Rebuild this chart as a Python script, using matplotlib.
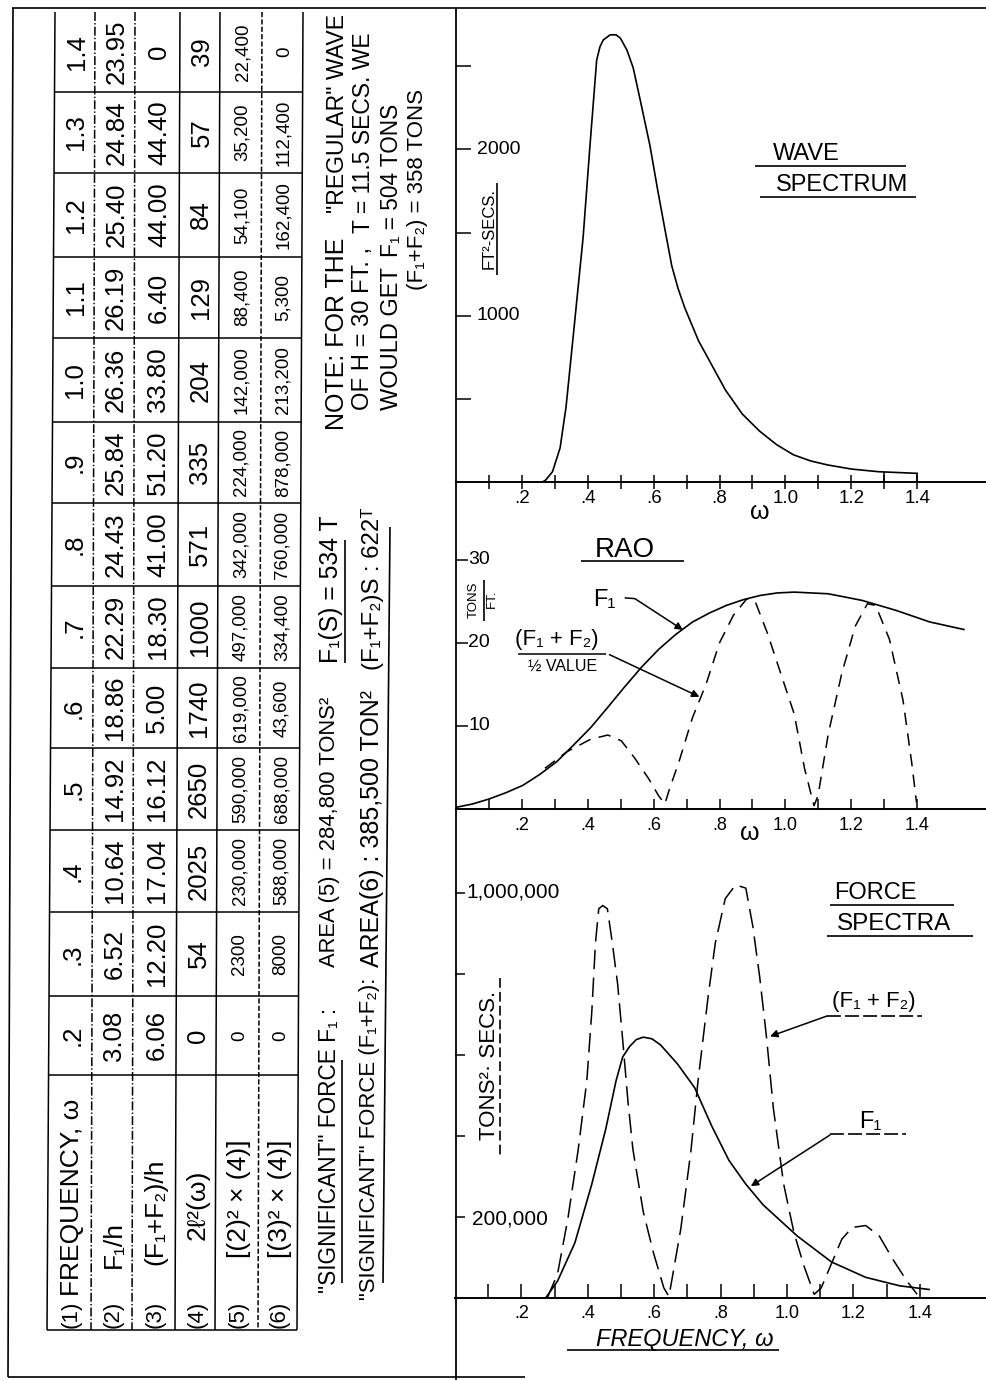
import matplotlib
matplotlib.use('Agg')
import matplotlib.pyplot as plt

plt.rcParams['font.family'] = ['Liberation Sans', 'DejaVu Sans']
plt.rcParams['lines.scale_dashes'] = False
plt.rcParams['axes.unicode_minus'] = False

# ---------------- table data (columns top -> bottom in the picture) ----------------
freq_labels = ['1.4', '1.3', '1.2', '1.1', '1.0', '.9', '.8', '.7', '.6', '.5', '.4', '.3', '.2']
f1_per_h = ['23.95', '24.84', '25.40', '26.19', '26.36', '25.84', '24.43', '22.29', '18.86', '14.92', '10.64', '6.52', '3.08']
f12_per_h = ['0', '44.40', '44.00', '6.40', '33.80', '51.20', '41.00', '18.30', '5.00', '16.12', '17.04', '12.20', '6.06']
wave_ord = ['39', '57', '84', '129', '204', '335', '571', '1000', '1740', '2650', '2025', '54', '0']
f1_spec = ['22,400', '35,200', '54,100', '88,400', '142,000', '224,000', '342,000', '497,000', '619,000',
           '590,000', '230,000', '2300', '0']
f12_spec = ['0', '112,400', '162,400', '5,300', '213,200', '878,000', '760,000', '334,400', '43,600',
            '688,000', '588,000', '8000', '0']
row_ids = ['(1)', '(2)', '(3)', '(4)', '(5)', '(6)']
row_names = ['FREQUENCY, ω', 'F₁/h', '(F₁+F₂)/h', '2ℓ²(ω)', '[(2)² × (4)]', '[(3)² × (4)]']

# ---------------- wave spectrum ----------------
wave_w = [0.262, 0.272, 0.293, 0.316, 0.334, 0.355, 0.386, 0.406, 0.427, 0.437, 0.447, 0.468, 0.486,
          0.499, 0.519, 0.538, 0.56, 0.589, 0.612, 0.635, 0.655, 0.674, 0.694, 0.736, 0.818, 0.869,
          0.921, 0.973, 1.024, 1.076, 1.127, 1.20, 1.282, 1.40]
wave_s = [0, 11, 62, 205, 450, 860, 1473, 2004, 2536, 2617, 2658, 2689, 2689, 2669, 2597, 2490, 2290,
          2021, 1759, 1511, 1300, 1165, 1050, 850, 553, 409, 307, 225, 164, 127, 103, 78, 62, 52]
wave_vl_w = [1.3, 1.4]
wave_vl_s = [60, 52]
wave_yticks = [500, 1000, 1500, 2000, 2500]

# ---------------- RAO ----------------
rao_w = [0, 0.05, 0.1, 0.151, 0.203, 0.254, 0.306, 0.357, 0.409, 0.46, 0.512, 0.564, 0.615, 0.667,
         0.718, 0.77, 0.821, 0.873, 0.924, 0.975, 1.027, 1.13, 1.233, 1.336, 1.439, 1.542]
rao_f1 = [0.2, 0.6, 1.2, 1.95, 2.85, 4.15, 5.7, 7.7, 9.8, 12.2, 14.7, 17.1, 19.2, 21.0, 22.5, 23.6,
          24.5, 25.2, 25.7, 26.0, 26.1, 25.9, 25.1, 23.9, 22.5, 21.6]
rao_half_w = [0.27, 0.337, 0.409, 0.461, 0.502, 0.543, 0.584, 0.615, 0.634, 0.648, 0.677, 0.718, 0.759,
              0.80, 0.842, 0.883, 0.909, 0.945, 0.986, 1.027, 1.058, 1.079, 1.087, 1.099, 1.13, 1.171,
              1.212, 1.249, 1.274, 1.316, 1.357, 1.383, 1.398]
rao_half = [4.9, 6.9, 8.4, 8.9, 8.2, 6.1, 3.7, 1.6, 0.6, 2.4, 5.7, 11.0, 15.0, 20.0, 23.3, 25.3, 24.9,
            21.2, 16.3, 11.4, 4.9, 1.6, 0.4, 1.6, 9.0, 16.3, 22.0, 24.7, 24.5, 20.4, 13.1, 5.7, 0.8]
rao_yticks = [10, 20, 30]

# ---------------- force spectra ----------------
fs1_w = [0.273, 0.309, 0.361, 0.412, 0.454, 0.485, 0.505, 0.526, 0.546, 0.567, 0.593, 0.619, 0.67,
         0.722, 0.773, 0.825, 0.876, 0.928, 1.031, 1.134, 1.237, 1.34, 1.428]
fs1_v = [0, 42e3, 136e3, 281e3, 417e3, 536e3, 595e3, 621e3, 638e3, 644e3, 640e3, 625e3, 578e3,
         519e3, 425e3, 340e3, 281e3, 230e3, 153e3, 89e3, 51e3, 30e3, 21e3]
fs12_w = [0.278, 0.309, 0.34, 0.371, 0.397, 0.412, 0.423, 0.433, 0.445, 0.459, 0.474, 0.49, 0.505,
          0.521, 0.536, 0.567, 0.598, 0.629, 0.644, 0.649, 0.68, 0.711, 0.732, 0.763, 0.784, 0.814,
          0.845, 0.876, 0.897, 0.918, 0.938, 0.959, 0.99, 1.021, 1.052, 1.082, 1.103, 1.134, 1.165,
          1.196, 1.237, 1.278, 1.32, 1.361, 1.392]
fs12_v = [0, 60e3, 196e3, 366e3, 536e3, 706e3, 876e3, 961e3, 969e3, 961e3, 876e3, 774e3, 638e3,
          485e3, 366e3, 213e3, 111e3, 25e3, 4e3, 25e3, 170e3, 366e3, 536e3, 748e3, 876e3, 986e3,
          1020e3, 1012e3, 918e3, 791e3, 646e3, 468e3, 281e3, 161e3, 77e3, 9e3, 25e3, 85e3, 145e3,
          174e3, 179e3, 153e3, 94e3, 42e3, 9e3]
force_yticks = [200e3, 400e3, 600e3, 800e3, 1000e3]

x_ticks = [0.1, 0.2, 0.3, 0.4, 0.5, 0.6, 0.7, 0.8, 0.9, 1.0, 1.1, 1.2, 1.3, 1.4]
x_ticklabels = ['', '.2', '', '.4', '', '.6', '', '.8', '', '1.0', '', '1.2', '', '1.4']

# ---------------- figure ----------------
W, H = 987, 1380
K = 'black'
LW = 1.2
fig = plt.figure(figsize=(W / 100, H / 100), dpi=100)
fig.patch.set_facecolor('white')
renderer = fig.canvas.get_renderer()

axp = fig.add_axes([0, 0, 1, 1])
axp.set_xlim(0, W)
axp.set_ylim(H, 0)
axp.axis('off')


def line(xs, ys, **kw):
    kw.setdefault('lw', LW)
    kw.setdefault('color', K)
    axp.plot(xs, ys, solid_capstyle='butt', **kw)


def txt(x, y, s, size, rot=0, ha='center', va='center', **kw):
    return axp.text(x, y, s, fontsize=size, rotation=rot, ha=ha, va=va, color=K, **kw)


def up(x, y0, s, size, **kw):
    # rotated text that starts at y0 and reads upward
    return axp.text(x, y0, s, rotation=90, rotation_mode='anchor', ha='left', va='center',
                    fontsize=size, color=K, **kw)


def fit(x, y0, y1, s, size=15, lo=None, hi=None, **kw):
    t = up(x, y0, s, size, **kw)
    L = t.get_window_extent(renderer).height
    new = size * abs(y0 - y1) / L
    if hi is not None:
        new = min(new, hi)
    if lo is not None:
        new = max(new, lo)
    t.set_fontsize(new)
    return t


# page borders and divider
line([12, W], [8, 8])
line([13, 8], [8, 1377])
line([8, 525], [1377, 1377])
line([456, 456], [8, H], lw=1.3)

# ---------------- table ----------------
t_top, t_bot = 12, 1330
col_top = [55, 95, 135, 180, 220, 262, 303]
col_bot = [47, 91, 132, 175, 215, 258, 297]
col_ls = ['-', '-.', '-.', '-', '-', '--', '-']


def xat(i, y):
    return col_top[i] + (col_bot[i] - col_top[i]) * (y - t_top) / (t_bot - t_top)


def cx(r, y):
    return (xat(r, y) + xat(r + 1, y)) / 2 + 2


for i in range(7):
    line([col_top[i], col_bot[i]], [t_top, t_bot], ls=col_ls[i], lw=1.1)
bounds = [12, 92, 173, 257, 338, 422, 503, 586, 668, 748, 830, 912, 996, 1075]
for y in bounds[1:] + [1330]:
    line([xat(0, y), xat(6, y)], [y, y], lw=1.1)

rows = [freq_labels, f1_per_h, f12_per_h, wave_ord, f1_spec, f12_spec]
row_size = [18.5, 18.5, 18.5, 18.5, 13.5, 13.5]
for k in range(13):
    yc = (bounds[k] + bounds[k + 1]) / 2
    for r in range(6):
        txt(cx(r, yc), yc, rows[r][k], row_size[r], rot=90)

name_span = [(1296, 1095), (1268, 1198), (1265, 1150), (1240, 1137), (1258, 1117), (1258, 1117)]
for r in range(6):
    up(cx(r, 1314), 1328, row_ids[r], 16)
    y0, y1 = name_span[r]
    fit(cx(r, (y0 + y1) / 2), y0, y1, row_names[r], 15, lo=15, hi=19)

# note
fit(337, 430, 233, 'NOTE: FOR THE', 16, lo=15, hi=18)
fit(337, 213, 13, '"REGULAR" WAVE', 16, lo=15, hi=18)
fit(363, 410, 247, 'OF H = 30 FT. ,', 16, lo=15, hi=18)
fit(363, 233, 50, 'T = 11.5 SECS. WE', 16, lo=16.5, hi=18)
fit(392, 410, 310, 'WOULD GET', 16, lo=17, hi=18)
fit(392, 257, 103, 'F₁ = 504 TONS', 16, lo=15, hi=18)
fit(417, 290, 87, '(F₁+F₂) = 358 TONS', 15, lo=14, hi=16)

# significant forces
fit(329, 1293, 1007, '"SIGNIFICANT" FORCE F₁ :', 16, lo=15, hi=18)
fit(329, 967, 697, 'AREA (5) = 284,800 TONS²', 16, lo=15, hi=18)
fit(331, 663, 515, 'F₁(S) = 534 T', 16, lo=15, hi=18)
line([342, 342], [1283, 1060])
line([345, 345], [663, 540])
fit(370, 1300, 977, '"SIGNIFICANT" FORCE (F₁+F₂):', 16, lo=15, hi=18)
fit(372, 967, 683, 'AREA(6) : 385,500 TON²', 16, lo=15, hi=18)
fit(373, 670, 507, '(F₁+F₂)S : 622ᵀ', 16, lo=15, hi=18)
line([383, 390], [1283, 527])


# ---------------- charts ----------------
def chart(left, bottom, top, xs, ys):
    ax = fig.add_axes([left / W, 1 - bottom / H, (W - left) / W, (bottom - top) / H])
    ax.set_xlim(0, (W - left) / xs)
    ax.set_ylim(0, (bottom - top) * ys)
    ax.patch.set_visible(False)
    for s in ('top', 'right', 'left'):
        ax.spines[s].set_visible(False)
    ax.spines['bottom'].set_linewidth(1.4)
    return ax


arrow = dict(arrowstyle='-|>', color=K, lw=1.1, mutation_scale=11, shrinkA=0, shrinkB=0)

# wave spectrum
axw = chart(456, 482, 10, 329.4, 1 / 0.1663)
axw.plot(wave_w, wave_s, color=K, lw=1.2)
axw.vlines(wave_vl_w, 0, wave_vl_s, color=K, lw=1.1)
axw.set_xticks(x_ticks, labels=x_ticklabels)
axw.tick_params(axis='x', direction='inout', length=10, width=1.1, pad=0.5, labelsize=13.5)
axw.set_yticks(wave_yticks)
axw.tick_params(axis='y', direction='in', length=11, width=1.1, labelleft=False)
txt(477, 149, '2000', 14, ha='left')
txt(477, 315, '1000', 14, ha='left')
txt(489, 229, 'FT²-SECS.', 12, rot=90)
line([497.4, 497.4], [183, 275])
txt(806, 154, 'WAVE', 17)
line([755, 906], [166, 166])
txt(842, 185, 'SPECTRUM', 17)
line([760, 916], [197, 197])
txt(760, 512, 'ω', 18)

# RAO
axr = chart(456, 809, 500, 329.4, 1 / 8.31)
axr.plot(rao_w, rao_f1, color=K, lw=1.2)
axr.plot(rao_half_w, rao_half, color=K, lw=1.1, dashes=(9, 6))
axr.set_xticks(x_ticks, labels=x_ticklabels)
axr.tick_params(axis='x', direction='in', length=7.5, width=1.1, pad=6, labelsize=13)
axr.set_yticks(rao_yticks)
axr.tick_params(axis='y', direction='in', length=8.5, width=1.1, labelleft=False)
for v, y in zip(['30', '20', '10'], [559.6, 642.7, 725.8]):
    txt(468, y, v, 14, ha='left')
txt(624.6, 549.6, 'RAO', 20)
line([580.5, 684], [561.3, 561.3])
txt(473.7, 600, 'TONS', 9.5, rot=90)
line([483.8, 483.8], [580, 620.6])
txt(492.3, 599, 'FT.', 9.5, rot=90)
txt(604.3, 600.3, 'F₁', 17)
line([624.7, 634.8], [597.9, 598.6], lw=1.1)
axr.annotate('', xy=(0.689, 21.55), xycoords='data', xytext=(634.8, 598.6),
             textcoords=axp.transData, arrowprops=arrow)
txt(556.8, 639.3, '(F₁ + F₂)', 16)
line([517.8, 606], [653.6, 653.6], lw=1.1)
txt(562.9, 666.5, '½ VALUE', 11.5)
axr.annotate('', xy=(0.739, 13.5), xycoords='data', xytext=(609.4, 654.6),
             textcoords=axp.transData, arrowprops=arrow)
txt(750, 832.7, 'ω', 18)

# force spectra
axf = chart(455, 1298, 850, 332, 2469)
axf.plot(fs1_w, fs1_v, color=K, lw=1.2)
axf.plot(fs12_w, fs12_v, color=K, lw=1.1, dashes=(14, 6))
axf.set_xticks(x_ticks, labels=x_ticklabels)
axf.tick_params(axis='x', direction='in', length=10, width=1.1, pad=5.4, labelsize=13)
axf.set_yticks(force_yticks)
axf.tick_params(axis='y', direction='in', length=7, width=1.1, labelleft=False)
txt(466, 891.7, '1,000,000', 15, ha='left')
txt(472, 1218.8, '200,000', 15, ha='left')
txt(489.4, 1065.7, 'TONS²· SECS.', 16, rot=90)
line([499.8, 499.8], [977.7, 1156.8], ls=(0, (7, 3)))
txt(875, 893.4, 'FORCE', 17)
line([830, 954], [905.4, 905.4])
txt(894, 924.4, 'SPECTRA', 17.5)
line([827, 973], [936.4, 936.4])
txt(874, 1001.8, '(F₁ + F₂)', 16)
line([827, 921.6], [1015.6, 1015.6], ls=(0, (10, 3)))
axf.annotate('', xy=(0.949, 646e3), xycoords='data', xytext=(827, 1016),
             textcoords=axp.transData, arrowprops=arrow)
txt(870, 1122.4, 'F₁', 17)
line([830, 906], [1134.4, 1134.4], ls=(0, (10, 3)))
axf.annotate('', xy=(0.891, 276e3), xycoords='data', xytext=(830, 1135),
             textcoords=axp.transData, arrowprops=arrow)
txt(684.7, 1339.3, 'FREQUENCY, ω', 17, style='italic')
line([567, 778.7], [1349.6, 1349.6])

fig.savefig('out.png', dpi=100, facecolor='white')
